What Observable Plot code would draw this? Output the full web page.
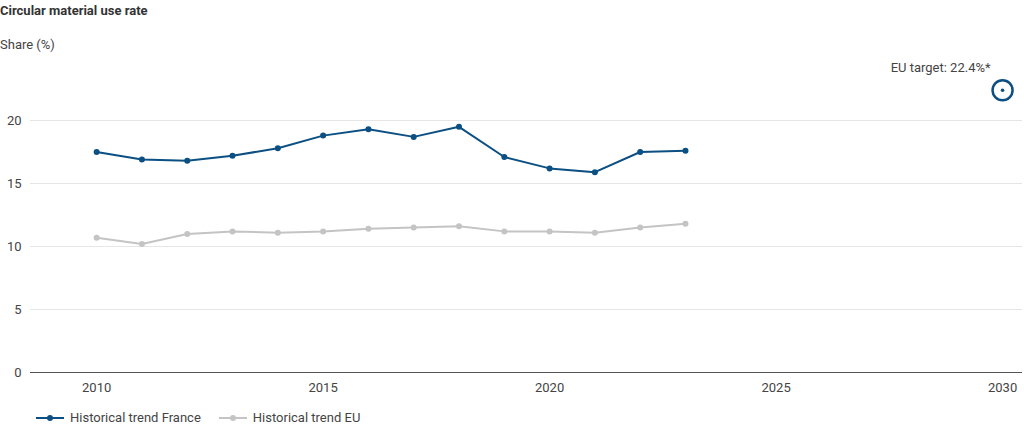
<!DOCTYPE html>
<html><head><meta charset="utf-8">
<script src="https://cdn.jsdelivr.net/npm/d3@7"></script>
<script src="https://cdn.jsdelivr.net/npm/@observablehq/plot@0.6"></script>
<style>
body{margin:0;width:1024px;height:427px;position:relative;font-family:Roboto,sans-serif;color:#333;background:#fff}
#t{position:absolute;left:0;top:3px;font-size:13px;font-weight:bold;color:#333}
#s{position:absolute;left:0;top:37px;font-size:13px;color:#444}
#c{position:absolute;left:0;top:55px}
#lg{position:absolute;left:36px;top:410px;font-size:13px;color:#444;display:flex;gap:18px}
.it{display:flex;align-items:center;gap:6px}
</style></head><body>
<div id="t">Circular material use rate</div>
<div id="s">Share (%)</div>
<div id="c"></div>
<div id="lg">
<div class="it"><svg width="28" height="10"><line x1="0" y1="5" x2="28" y2="5" stroke="#0b4f83" stroke-width="2"/><circle cx="14" cy="5" r="3" fill="#0b4f83"/></svg>Historical trend France</div>
<div class="it"><svg width="28" height="10"><line x1="0" y1="5" x2="28" y2="5" stroke="#c4c4c4" stroke-width="2"/><circle cx="14" cy="5" r="3" fill="#c4c4c4"/></svg>Historical trend EU</div>
</div>
<script>
const years=[2010,2011,2012,2013,2014,2015,2016,2017,2018,2019,2020,2021,2022,2023];
const france=[17.5,16.9,16.8,17.2,17.8,18.8,19.3,18.7,19.5,17.1,16.2,15.9,17.5,17.6];
const eu=[10.7,10.2,11.0,11.2,11.1,11.2,11.4,11.5,11.6,11.2,11.2,11.1,11.5,11.8];
const targetYear=2030, targetValue=22.4, targetLabel="EU target: 22.4%*";
const fr=years.map((y,i)=>({year:y,v:france[i]}));
const e=years.map((y,i)=>({year:y,v:eu[i]}));
const tg=[{year:targetYear,v:targetValue}];
const blue="#0b4f83", grey="#c4c4c4";
const p=Plot.plot({width:1024,height:345,marginLeft:30,marginRight:2,marginTop:14.6,marginBottom:28,
 style:{fontFamily:"Roboto,sans-serif",fontSize:"13px",color:"#444"},
 x:{domain:[2008.54,2030.44],ticks:[2010,2015,2020,2025,2030],tickFormat:d=>String(d),tickSize:0,label:null,tickPadding:10},
 y:{domain:[0,24],ticks:[0,5,10,15,20],tickSize:0,label:null,grid:false},
 marks:[
  Plot.ruleY([5,10,15,20],{stroke:"#e6e6e6"}),
  Plot.ruleY([0],{stroke:"#555"}),
  Plot.line(e,{x:"year",y:"v",stroke:grey,strokeWidth:2}),
  Plot.dot(e,{x:"year",y:"v",fill:grey,r:3}),
  Plot.line(fr,{x:"year",y:"v",stroke:blue,strokeWidth:2}),
  Plot.dot(fr,{x:"year",y:"v",fill:blue,r:3}),
  Plot.dot(tg,{x:"year",y:"v",stroke:blue,strokeWidth:2.5,r:10,fill:"white"}),
  Plot.dot(tg,{x:"year",y:"v",fill:blue,r:1.8}),
  Plot.text(tg,{x:"year",y:"v",text:()=>targetLabel,dx:-12,dy:-22,textAnchor:"end",fill:"#444",fontSize:13})
 ]});
document.getElementById("c").appendChild(p);
</script></body></html>
